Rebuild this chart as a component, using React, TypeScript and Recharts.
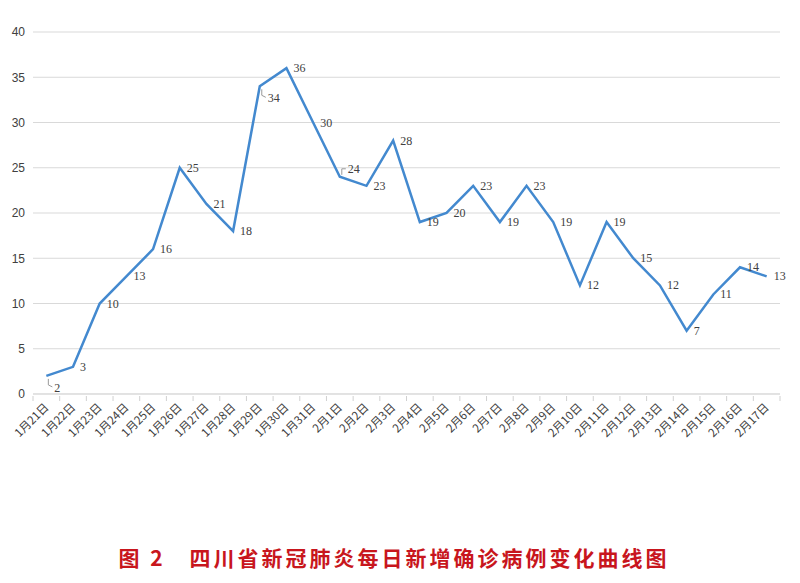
import React from "react";
import {
  CartesianGrid,
  LabelList,
  Line,
  LineChart,
  XAxis,
  YAxis,
} from "recharts";

const dates = [
  "1月21日", "1月22日", "1月23日", "1月24日", "1月25日", "1月26日", "1月27日",
  "1月28日", "1月29日", "1月30日", "1月31日", "2月1日", "2月2日", "2月3日",
  "2月4日", "2月5日", "2月6日", "2月7日", "2月8日", "2月9日", "2月10日",
  "2月11日", "2月12日", "2月13日", "2月14日", "2月15日", "2月16日", "2月17日",
];

const newCases = [
  2, 3, 10, 13, 16, 25, 21, 18, 34, 36, 30, 24, 23, 28,
  19, 20, 23, 19, 23, 19, 12, 19, 15, 12, 7, 11, 14, 13,
];

const yTicks = [0, 5, 10, 15, 20, 25, 30, 35, 40];

const title = "图 2　四川省新冠肺炎每日新增确诊病例变化曲线图";

const data = dates.map((d, i) => ({ date: d, value: newCases[i] }));

// labels that sit off the point with a little leader line, like Excel did
const leaderIdx = new Set([0, 8, 11]);

const HALF_BAND = (780 - 33) / dates.length / 2;

function PointLabel(props: any) {
  const { x, y, value, index } = props;
  if (leaderIdx.has(index)) {
    const up = index === 11;
    const ty = up ? y - 8 : y + 12;
    return (
      <g>
        <path
          d={up ? `M${x + 2},${y - 2} L${x + 2},${y - 8} L${x + 6},${y - 8}` : `M${x + 2},${y + 3} L${x + 2},${y + 9} L${x + 6},${y + 11}`}
          stroke="#999"
          fill="none"
          strokeWidth={1}
        />
        <text x={x + 8} y={ty + 4} fontSize={12} fill="#404040" fontFamily="'Liberation Serif', serif">
          {value}
        </text>
      </g>
    );
  }
  return (
    <text x={x + 7} y={y + 4} fontSize={12} fill="#404040" fontFamily="'Liberation Serif', serif">
      {value}
    </text>
  );
}

function DateTick(props: any) {
  const { x, y, payload, index } = props;
  const ax = y - 8;
  return (
    <g>
      {index === 0 && <line x1={x - HALF_BAND} y1={ax} x2={x - HALF_BAND} y2={ax + 5} stroke="#d0d0d0" />}
      <line x1={x + HALF_BAND} y1={ax} x2={x + HALF_BAND} y2={ax + 5} stroke="#d0d0d0" />
      <text
        x={x + 3}
        y={y + 4}
        textAnchor="end"
        fontSize={11.5}
        fill="#404040"
        fontFamily="'Noto Sans CJK SC', sans-serif"
        transform={`rotate(-45 ${x + 3} ${y + 4})`}
      >
        {payload.value}
      </text>
    </g>
  );
}

export default function App() {
  return (
    <div style={{ position: "absolute", left: 0, top: 0, width: 800, height: 583, background: "#fff" }}>
      <LineChart
        width={800}
        height={460}
        data={data}
        margin={{ top: 32, right: 20, bottom: 0, left: 0 }}
      >
        <CartesianGrid vertical={false} stroke="#d9d9d9" />
        <XAxis
          dataKey="date"
          scale="band"
          interval={0}
          tick={<DateTick />}
          tickLine={false}
          height={66}
          stroke="#d9d9d9"
          tickSize={8}
        />
        <YAxis
          domain={[0, 40]}
          ticks={yTicks}
          width={33}
          axisLine={false}
          tickLine={false}
          tick={{ fontSize: 12, fill: "#404040", fontFamily: "'Liberation Sans', sans-serif" }}
        />
        <Line
          type="linear"
          dataKey="value"
          stroke="#4389cf"
          strokeWidth={2.5}
          dot={false}
          isAnimationActive={false}
        >
          <LabelList dataKey="value" content={<PointLabel />} />
        </Line>
      </LineChart>
      <div
        style={{
          position: "absolute",
          left: -6,
          top: 543,
          width: 800,
          textAlign: "center",
          color: "#c8161d",
          fontSize: 21,
          fontWeight: 700,
          letterSpacing: 3,
          fontFamily: "'Noto Sans CJK SC', sans-serif",
          lineHeight: "28px",
        }}
      >
        {title}
      </div>
    </div>
  );
}
